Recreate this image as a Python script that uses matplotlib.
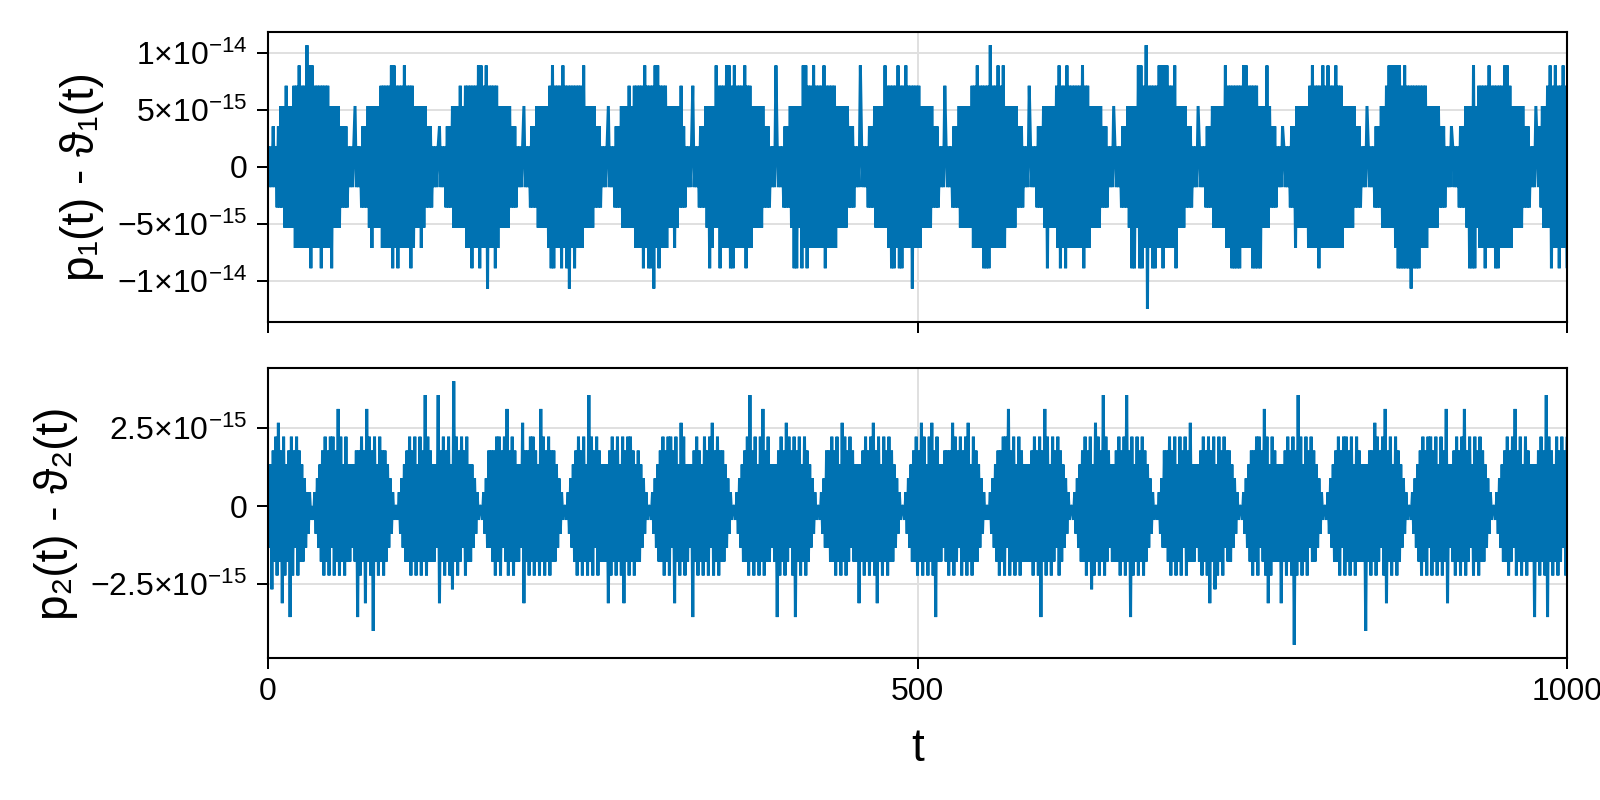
import numpy as np
import matplotlib
matplotlib.use("Agg")
import matplotlib.pyplot as plt

# Niveles, en unidades del ultimo bit (ulp).
# Un caracter por muestra: digito = nivel positivo, letra a..j = -1..-10
niveles_p1 = [
    "1a",
    "1a2a1" "b2b3b" "3c4c3c3c4d" "4d5d4d4d6d5e5d4d4d4e4d4d4d" "3e3c3c3c2" "b2b2b" "1a1a1",
    "3a1a1" "b2b2b" "3c3d3c3c3c" "4d4d4d4d5e5d4e4d4d5d4d4e4d" "3c3c3d3c3" "b2b2b" "1a1a1",
    "2a1a1" "b2b2b" "3c3c3c4c3c" "4d4d4e4d4d5e5d4d5f4d4d4e4d" "3c3c3c3c3" "b2b2b" "1a1a1",
    "3a1a1" "b2b2b" "3c3c3c3c3d" "4e5e4d4d4e5d4e4f4d4e4d4d4d" "5c3c3c3c3" "b2b2b" "1a1a1",
    "3a1a1" "b2b2b" "3c3c3c4c3c" "4d4d4d4e5d4e4e4f5d5e4d4d4d" "3c3c3d3c3" "b4b2b" "1a1a1",
    "4a1a1" "b2b2b" "3c3e3d3c5c" "4e4d4d5d5e4e5d4d4d4d5e4d4d" "3c3c3c3c3" "b2b2b" "1a1a5",
    "1a1a1" "b2b2b" "3c3e3e3c3e" "5d5e4d4d5d4d4d4d5e4d4d4d4d" "3c3c3c3c3" "b2b2b" "1a1a5",
    "1a1a1" "b2b2b" "3c3c3c3c5c" "4d4e4e4d5e4e4d5d4d4f4d4d4d" "3c3c3c3c3" "b2b2b" "1a1a4",
    "1a1a1" "b2b2b" "3c3c3c3c3c" "4d4d5d4d4e4e4e6d4d4d5d4d5d" "3c3c3c3c3" "b2b2b" "1a1a4",
    "1a1a1" "b2b2b" "3c3e3c3c3c" "4d5e4d4e5d4d4d4d4d4d5e4d4d" "3c3c3c3c3" "b2b2b" "1a1a3",
    "1a1a1" "b2b2b" "3c3e3e3c5e" "5e4d6g4d4e4e4d5d5e5d5d4d4d" "5e3c3c3c3" "b2b2b" "1a1a3",
    "1a1a1" "b2b2b" "3c3c3c3c3c" "5d4d4e4e4e4e4d5d5d4d4e4e4e" "3e3c3c5c3" "b2b2b" "1a1a2",
    "1a1a1" "b2b2d" "3c3c3c3c3d" "4d5d4d4e4d5d4d5d4d4d5d4d4d" "3c3c3c3c3" "b2b2b" "1a1a3",
    "1a1a1" "b2b2b" "3c3c4c5c5c" "5d5e5e4e5e4e4f4e4e4e4d4d4d" "3c3c3c3c3" "b2b2b" "1a1a2",
    "1a1a1" "b2b2b" "3c3e3e5e3c" "4d4d4e4d5d4d4e4e4d4d5d5d4d" "3c3c3c3c3" "b2b2b" "1a1a3",
    "1a2b3c3c4c5e4d5d4e4d5d4e",
]

niveles_p2 = [
    "3c3f4d5e6d4g5e3d4h5e4c5e4d3d2c1b1a",
    "0a1b2c3d4e" "5d4e5c5e4d7e5d3e5" "d3d3c3d4" "h4e5d4g7d5e4i5d3e5d4e4" "d3c2b1a0",
    "0a1b2c3d4d" "5e4d5e3d5e4d8e5d4" "d3d3c8g4" "d5e4d5e3f9d5e4d5c4e5d3" "d3c2b1a0",
    "0a1b2c4c4d" "4e5d5e4c5d7e4d5e4" "d3d3c6g4" "d4e5d5e4d3e7d5e4d5e4d4" "d3c2b1a0",
    "0a1b2c3d4e" "5d4e5d3e8d5e4c5e4" "d3d3d3g4" "e5d4e5d3e5g4d5e5d4e3d4" "d3c2b1a0",
    "0a1b2c3d4d" "5e4d5e5c4g5d3e6d5" "e3d3c3h4" "d5e4d3e5d4e5c6e4d5e4d4" "d3c2b1a0",
    "0a1b2c3d4d" "5e8d4e5d3e5d7e4d5" "d3c3d3h4" "e5d4e6d5c4e5h4d5e3d5e4" "d3c2b1a0",
    "0a1b2c4c4d" "5d4e5d3e6d5e4d5c4" "d3d3g3d4" "e5d4e5d6e4g5d3e5d4e5d4" "d3c2b1a0",
    "0a1b2c3d4d" "5e4d6e5d3e5d6e4h5" "d3d3c4d4" "e4d6e5d4c5e4d5e6d3e5d4" "d3c2b1a0",
    "0a1b2c3d4e" "4d5e5c7e4d5e3d5e4" "d3d3d3d4" "e5d4e5h4d7e5d3e5d4c5e4" "d3c2b1a0",
    "0a1b2c3d4d" "5e4d5f3e6d5e4d8e5" "d4c3d3d4" "d5e4d5e8d4h5e3d5e4d5e4" "d3c2b1a0",
    "0a1b2c4c4d" "5e4d5e3d5e4c5e4d6" "d3d3c3d4" "e5d4e5g4d5f3e5d4e5c4d4" "d3c2b1a0",
    "0a1b2c3d4e" "4d5e5c4d7e5g3e5d4" "d3d3g3d4" "e5d4e5j4e8d5e3d5e4c5d4" "d3c2b1a0",
    "0a1b2c3d4d" "5e4c5e5d4e5d3e5d4" "d3d3i3d4" "e4d6e5d4c5e7g4d5e3d5e4" "d3c2b1a0",
    "0a1b2c3d4e" "5d4e5c5e4d5e3d5e4" "d7g3c3d4" "e5d4e5d7e4d5c3e5d4e5d4" "d3c2b1a0",
    "0a1b2c3d4d" "5e4d5c7e4d5e3d5e4" "d3d3h3d4" "e5d4e8h5d4e3d5e4d5c4e5",
]

ulp_p1 = 2.0 ** -49
ulp_p2 = 2.0 ** -51
t_min, t_max = 0, 1000

xticks = [0, 500, 1000]
yticks_p1 = [-1e-14, -5e-15, 0, 5e-15, 1e-14]
yticks_p1_labels = [r"$\mathregular{-1{\times}10^{-14}}$", r"$\mathregular{-5{\times}10^{-15}}$", "0",
                    r"$\mathregular{5{\times}10^{-15}}$", r"$\mathregular{1{\times}10^{-14}}$"]
yticks_p2 = [-2.5e-15, 0, 2.5e-15]
yticks_p2_labels = [r"$\mathregular{-2.5{\times}10^{-15}}$", "0", r"$\mathregular{2.5{\times}10^{-15}}$"]

ylabel_p1 = "p₁(t) - ϑ₁(t)"
ylabel_p2 = "p₂(t) - ϑ₂(t)"
xlabel = "t"

color_linea = "#0072B2"
color_grid = "#e0e0e0"


def decodificar(lineas, ulp):
    """ Convierte las cadenas de niveles en valores numericos """
    valores = []
    for c in "".join(lineas):
        if c.isdigit():
            valores.append(int(c))
        else:
            valores.append(-(ord(c) - ord("a") + 1))
    return np.array(valores, dtype=float) * ulp


def estilo_eje(ax, yticks, ylabels, ylabel):
    """ Aplica el estilo tipo Makie a un eje """
    ax.set_xlim(t_min, t_max)
    ax.set_xticks(xticks)
    ax.set_yticks(yticks, ylabels)
    ax.grid(True, color=color_grid, linewidth=1.44)
    ax.set_axisbelow(True)
    for spine in ax.spines.values():
        spine.set_linewidth(1.5)
    ax.tick_params(direction="out", length=8, width=1.44, labelsize=23, pad=6)
    ax.tick_params(axis="y", pad=7)
    ax.set_ylabel(ylabel, fontsize=33, labelpad=9)


plt.rcParams["font.family"] = ["Liberation Sans", "DejaVu Sans"]
plt.rcParams["mathtext.fontset"] = "custom"
plt.rcParams["mathtext.rm"] = "Liberation Sans"
plt.rcParams["mathtext.it"] = "Liberation Sans:italic"
plt.rcParams["mathtext.bf"] = "Liberation Sans:bold"

y1 = decodificar(niveles_p1, ulp_p1)
y2 = decodificar(niveles_p2, ulp_p2)
t1 = np.linspace(t_min, t_max, len(y1))
t2 = np.linspace(t_min, t_max, len(y2))

fig = plt.figure(figsize=(16, 8), dpi=100)
ax1 = fig.add_axes([0.1675, 0.5975, 0.8119, 0.3625])
ax2 = fig.add_axes([0.1675, 0.1775, 0.8119, 0.3625])

for ax, t, y in [(ax1, t1, y1), (ax2, t2, y2)]:
    ax.plot(t, y, color=color_linea, linewidth=2.16,
            solid_joinstyle="bevel", solid_capstyle="butt")

estilo_eje(ax1, yticks_p1, yticks_p1_labels, ylabel_p1)
estilo_eje(ax2, yticks_p2, yticks_p2_labels, ylabel_p2)
ax1.tick_params(labelbottom=False)
ax2.set_xlabel(xlabel, fontsize=33, labelpad=14)

fig.savefig("out.png", dpi=100)
